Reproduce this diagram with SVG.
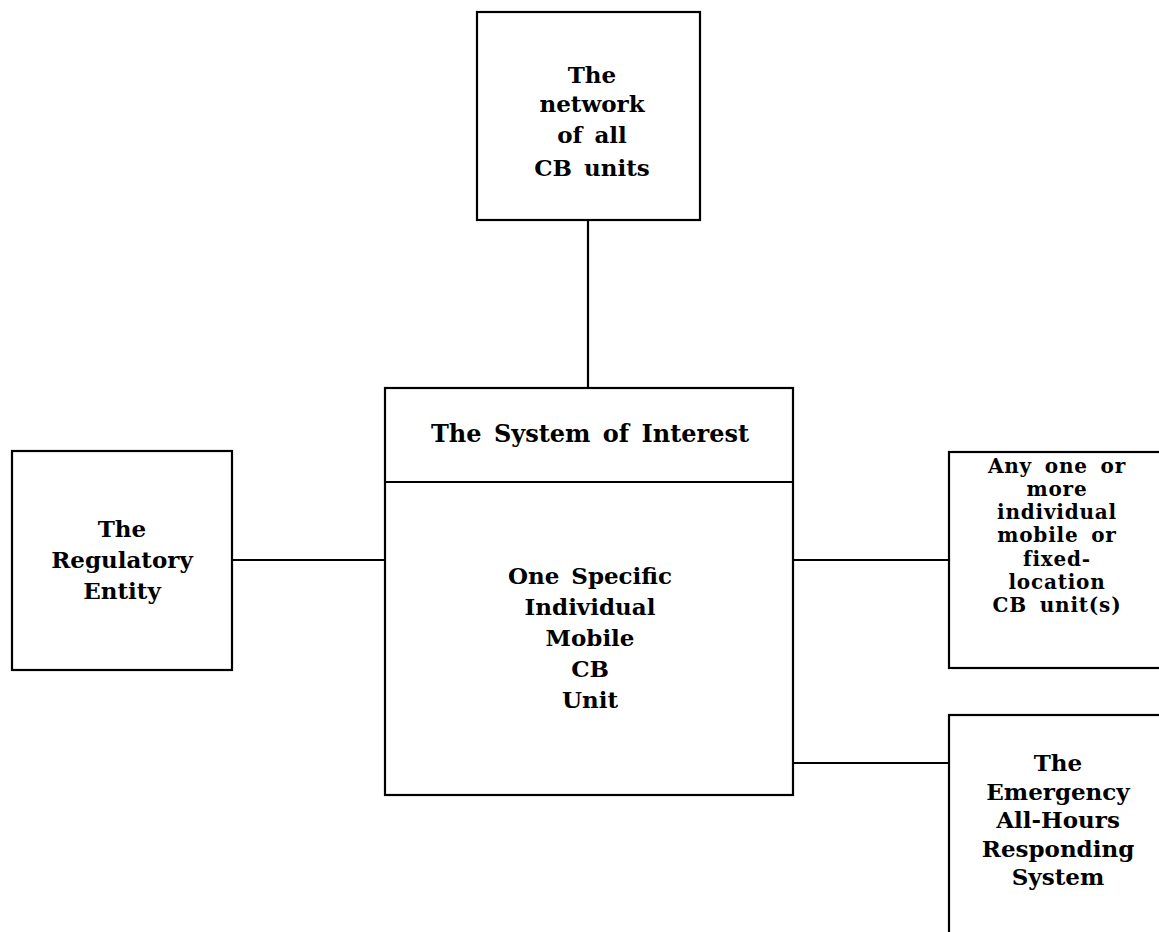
<svg xmlns="http://www.w3.org/2000/svg" width="1159" height="932" viewBox="0 0 1159 932">
<style>
.box{fill:none;stroke:#000;stroke-width:2.2}
.ln{fill:none;stroke:#000;stroke-width:2.2}
text{font-family:"DejaVu Serif","Liberation Serif",serif;font-weight:bold;font-size:23px;fill:#000;text-anchor:middle}
.sm{font-size:20px;letter-spacing:0.8px;word-spacing:5px}
</style>
<rect width="1159" height="932" fill="#fff"/>
<g id="connectors">
<line class="ln" x1="588" y1="220" x2="588" y2="388"/>
<line class="ln" x1="232" y1="560" x2="385" y2="560"/>
<line class="ln" x1="793" y1="560" x2="949" y2="560"/>
<line class="ln" x1="793" y1="763" x2="949" y2="763"/>
</g>
<g id="network">
<rect class="box" x="477" y="12" width="223" height="208"/>
<text x="592" y="83">The</text>
<text x="592" y="112">network</text>
<text x="592" y="143" word-spacing="4">of all</text>
<text x="592" y="176" word-spacing="4">CB units</text>
</g>
<g id="system">
<rect class="box" x="385" y="388" width="408" height="407"/>
<line class="ln" x1="385" y1="482" x2="793" y2="482"/>
<text x="590" y="442" word-spacing="4" style="font-size:24px">The System of Interest</text>
<text x="590" y="584" word-spacing="4">One Specific</text>
<text x="590" y="615">Individual</text>
<text x="590" y="646">Mobile</text>
<text x="590" y="677">CB</text>
<text x="590" y="708">Unit</text>
</g>
<g id="regulatory">
<rect class="box" x="12" y="451" width="220" height="219"/>
<text x="122" y="537">The</text>
<text x="122" y="568">Regulatory</text>
<text x="122" y="599">Entity</text>
</g>
<g id="cbunits">
<rect class="box" x="949" y="452" width="230" height="216"/>
<text class="sm" x="1057" y="473">Any one or</text>
<text class="sm" x="1057" y="496">more</text>
<text class="sm" x="1057" y="519">individual</text>
<text class="sm" x="1057" y="542">mobile or</text>
<text class="sm" x="1057" y="566">fixed-</text>
<text class="sm" x="1057" y="589">location</text>
<text class="sm" x="1057" y="612">CB unit(s)</text>
</g>
<g id="emergency">
<rect class="box" x="949" y="715" width="230" height="240"/>
<text x="1058" y="771">The</text>
<text x="1058" y="800">Emergency</text>
<text x="1058" y="828">All-Hours</text>
<text x="1058" y="857">Responding</text>
<text x="1058" y="885">System</text>
</g>
</svg>
